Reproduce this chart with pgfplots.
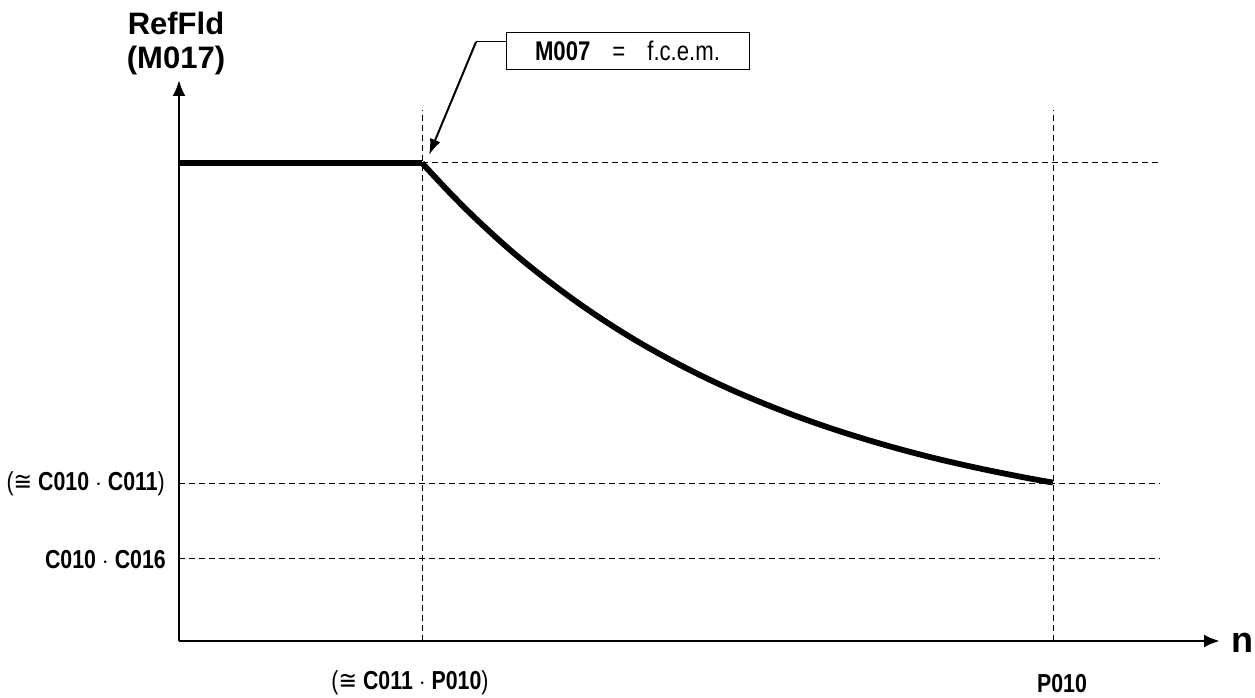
\documentclass[border=0pt]{standalone}
\usepackage{fontspec}
\setmainfont{Liberation Sans}
\newfontfamily\narrow[FakeStretch=0.82]{Liberation Sans}
\newfontfamily\dejavu[FakeStretch=0.85]{DejaVu Sans}
\usepackage{pgfplots}
\pgfplotsset{compat=1.18}
\usetikzlibrary{arrows.meta}
\begin{document}
\begin{tikzpicture}
\begin{axis}[
  x=1pt, y=1pt,
  xmin=0, xmax=1041, ymin=0, ymax=561,
  enlargelimits=false,
  axis lines=left,
  axis line style={line width=2.8pt, -{Latex[length=16pt,width=13pt]}},
  xtick=\empty, ytick=\empty,
  clip=false,
]
% reference dashed lines
\addplot[black, line width=1pt, dash pattern=on 6pt off 4pt] coordinates {(243,478) (981,478)};
\addplot[black, line width=1pt, dash pattern=on 6pt off 4pt] coordinates {(0,158) (981,158)};
\addplot[black, line width=1pt, dash pattern=on 6pt off 4pt] coordinates {(0,83) (981,83)};
\addplot[black, line width=1pt, dash pattern=on 6pt off 4pt] coordinates {(243,0) (243,531)};
\addplot[black, line width=1pt, dash pattern=on 6pt off 4pt] coordinates {(874,0) (874,531)};
% curve
\addplot[black, line width=5.8pt] coordinates {(0,478) (243,478)};
\addplot[black, line width=5.8pt, smooth, tension=0.6] coordinates {
(243,478) (273,446) (303,416.5) (343,381) (393,342.5) (443,309) (493,280.3)
(543,255.5) (593,234.2) (643,215.7) (693,199.8) (743,186) (793,174.2)
(843,164) (874,158.4)};
% annotation box and leader
\node[draw, line width=1pt, minimum width=243pt, minimum height=37pt, inner sep=0pt]
  at (axis cs:448.5,590) {\fontsize{27}{28}\selectfont\narrow\textbf{M007}\hspace{22pt}=\hspace{22pt}f.c.e.m.};
\draw[line width=1pt] (axis cs:327,599) -- (axis cs:297,599);
\draw[line width=2pt, -{Latex[length=16pt,width=11pt]}] (axis cs:297,599) -- (axis cs:250,486);
% labels
\node[align=center, font=\fontsize{31}{34}\selectfont\bfseries] at (axis cs:-3,598) {RefFld\\(M017)};
\node[anchor=base west, font=\fontsize{36}{38}\selectfont\bfseries] at (axis cs:1049,-11) {n};
\node[anchor=east, inner sep=0pt, font=\fontsize{26}{28}\selectfont\narrow] at (axis cs:-14,157) {({\dejavu ≅}\hspace{6pt}\textbf{C010 $\cdot$ C011})};
\node[anchor=east, inner sep=0pt, font=\fontsize{26}{28}\selectfont\narrow] at (axis cs:-13,81) {\textbf{C010 $\cdot$ C016}};
\node[font=\fontsize{26}{28}\selectfont\narrow] at (axis cs:231,-42) {({\dejavu ≅}\hspace{6pt}\textbf{C011 $\cdot$ P010})};
\node[font=\fontsize{26}{28}\selectfont\narrow] at (axis cs:883,-43) {\textbf{P010}};
\coordinate (bl) at (axis cs:-179,-56);
\coordinate (tr) at (axis cs:1076,641);
\end{axis}
\pgfresetboundingbox
\path[use as bounding box] (bl) rectangle (tr);
\end{tikzpicture}
\end{document}
